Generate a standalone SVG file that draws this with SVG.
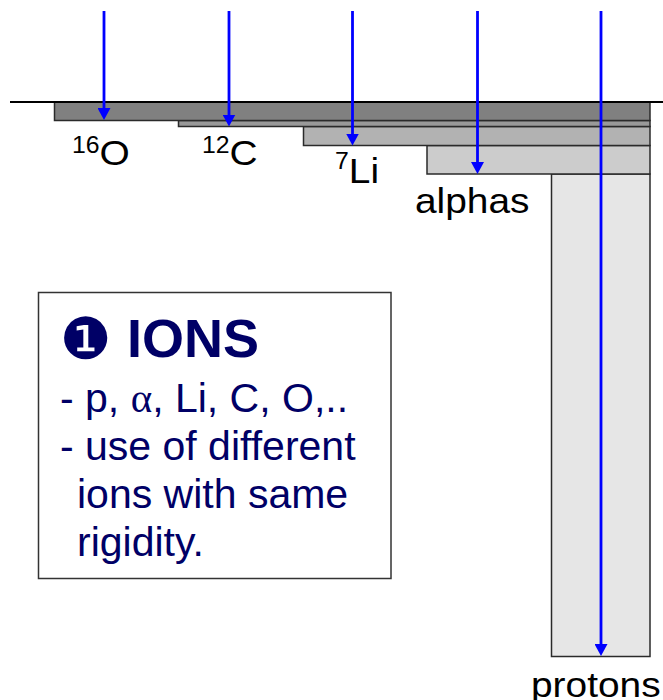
<svg xmlns="http://www.w3.org/2000/svg" width="663" height="700" viewBox="0 0 663 700">
<style>
.bar{stroke:#2a2a2a;stroke-width:1.5}
.arr{stroke:#0000ff;stroke-width:2.8;fill:none}
.lbl{font-family:"Liberation Sans",Arial,sans-serif;font-size:36px;fill:#000}
.sup{font-size:23px}
.box{fill:#fff;stroke:#333;stroke-width:1.5}
.body{font-family:"Liberation Sans",Arial,sans-serif;font-size:41px;fill:#000066}
.title{font-family:"Liberation Sans",Arial,sans-serif;font-size:54px;font-weight:bold;fill:#000066}
.dingbat{font-family:"DejaVu Sans",sans-serif;font-size:58px;fill:#000066}
</style>
<defs>
<marker id="ah" viewBox="0 0 12 13" refX="1" refY="6.5" markerWidth="12" markerHeight="13" markerUnits="userSpaceOnUse" orient="auto">
<path d="M0,0 L12,6.5 L0,13 z" fill="#0000ff"/>
</marker>
</defs>
<g id="bars">
<rect id="protons-bar" class="bar" x="551.5" y="174" width="98.5" height="482.5" fill="#e6e6e6"/>
<rect id="alphas-bar" class="bar" x="427" y="145.5" width="223" height="28.5" fill="#cccccc"/>
<rect id="li-bar" class="bar" x="303.5" y="126.5" width="346.5" height="19" fill="#b2b2b2"/>
<rect id="c-bar" class="bar" x="178.5" y="120.5" width="471.5" height="6" fill="#999999"/>
<rect id="o-bar" class="bar" x="54.5" y="102" width="595.5" height="18.5" fill="#808080"/>
<line x1="10" y1="102" x2="663" y2="102" stroke="#000" stroke-width="2"/>
</g>
<g id="connectors">
<line class="arr" x1="104" y1="11" x2="104" y2="109" marker-end="url(#ah)"/>
<line class="arr" x1="229" y1="11" x2="229" y2="115.5" marker-end="url(#ah)"/>
<line class="arr" x1="352.5" y1="11" x2="352.5" y2="134.5" marker-end="url(#ah)"/>
<line class="arr" x1="477.5" y1="11" x2="477.5" y2="163" marker-end="url(#ah)"/>
<line class="arr" x1="601" y1="11" x2="601" y2="645" marker-end="url(#ah)"/>
</g>
<g id="labels">
<text id="lbl-o" class="lbl" transform="translate(72,165) scale(1.08,1)"><tspan class="sup" dy="-12">16</tspan><tspan dy="12">O</tspan></text>
<text id="lbl-c" class="lbl" transform="translate(202,165) scale(1.08,1)"><tspan class="sup" dy="-12">12</tspan><tspan dy="12">C</tspan></text>
<text id="lbl-li" class="lbl" transform="translate(335,182.5) scale(1.08,1)"><tspan class="sup" dy="-14">7</tspan><tspan dy="14">Li</tspan></text>
<text id="lbl-alpha" class="lbl" transform="translate(415,213) scale(1.08,1)">alphas</text>
<text id="lbl-p" class="lbl" transform="translate(531,697) scale(1.08,1)">protons</text>
</g>
<g id="ions-box">
<rect class="box" x="38.5" y="292.5" width="352.5" height="286"/>
<text class="dingbat" x="60" y="359">❶</text>
<text class="title" x="127" y="357">IONS</text>
<text class="body" x="60" y="412">- p, <tspan style="font-family:'Liberation Serif',serif">α</tspan>, Li, C, O,..</text>
<text class="body" x="60" y="460">- use of different</text>
<text class="body" x="77" y="508">ions with same</text>
<text class="body" x="77" y="556">rigidity.</text>
</g>
</svg>
